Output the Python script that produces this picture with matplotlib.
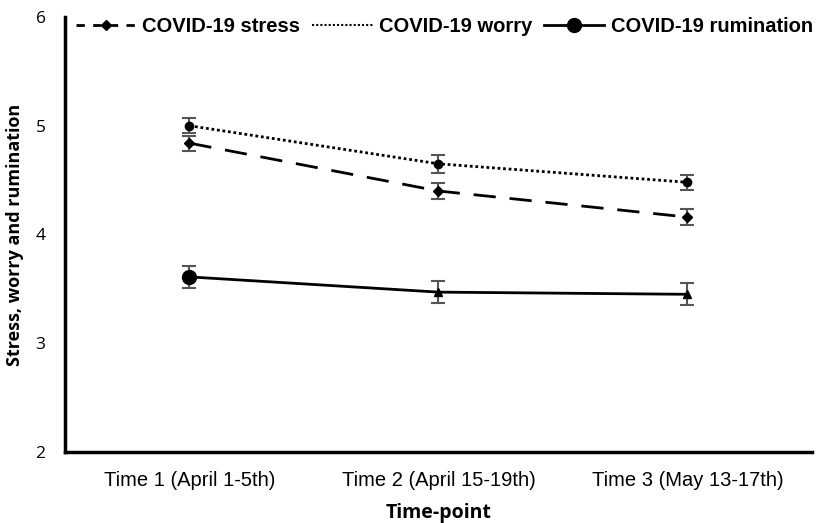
import matplotlib
matplotlib.use('Agg')
import matplotlib.pyplot as plt
from matplotlib.lines import Line2D

timepoints = ['Time 1 (April 1-5th)', 'Time 2 (April 15-19th)', 'Time 3 (May 13-17th)']
stress = [4.84, 4.40, 4.16]
stress_err = [0.07, 0.07, 0.07]
worry = [5.00, 4.65, 4.48]
worry_err = [0.07, 0.08, 0.07]
rumination = [3.61, 3.47, 3.45]
rumination_err = [0.10, 0.10, 0.10]
rum_markers = ['o', '^', '^']
rum_sizes = [10, 6, 6]

fig = plt.figure(figsize=(8.26, 5.23), dpi=100)
ax = fig.add_axes([0.0787, 0.1358, 0.9043, 0.8317])
x = list(range(len(timepoints)))
ecol = '#555555'

ax.errorbar(x, stress, yerr=stress_err, fmt='none', ecolor=ecol, elinewidth=1.5, capsize=5, capthick=1.5, zorder=2)
ax.errorbar(x, worry, yerr=worry_err, fmt='none', ecolor=ecol, elinewidth=1.5, capsize=5, capthick=1.5, zorder=2)
ax.errorbar(x, rumination, yerr=rumination_err, fmt='none', ecolor=ecol, elinewidth=1.5, capsize=5, capthick=1.5, zorder=2)

ax.plot(x, stress, color='black', lw=2, dashes=(8, 5), marker='D', ms=5, zorder=3)
ax.plot(x, worry, color='black', lw=2, linestyle=(0, (1, 1)), marker='o', ms=6, zorder=3)
ax.plot(x, rumination, color='black', lw=2, zorder=3)
for xi, yi, m, s in zip(x, rumination, rum_markers, rum_sizes):
    ax.plot(xi, yi, marker=m, ms=s, color='black', zorder=4)

ax.set_xlim(-0.5, 2.5)
ax.set_ylim(2, 6)
ax.set_yticks([2, 3, 4, 5, 6])
ax.set_xticks(x)
ax.set_xticklabels(timepoints, fontsize=14.5, family='Liberation Sans')
for lbl in ax.get_yticklabels():
    lbl.set_family('Open Sans')
    lbl.set_fontsize(12.5)
ax.tick_params(axis='x', length=0, pad=14)
ax.tick_params(axis='y', length=0, pad=14)
for side in ['top', 'right']:
    ax.spines[side].set_visible(False)
for side in ['left', 'bottom']:
    ax.spines[side].set_linewidth(2.5)

ax.set_xlabel('Time-point', fontsize=14, fontweight='bold', family='Open Sans', labelpad=9)
ax.set_ylabel('Stress, worry and rumination', fontsize=13, fontweight='bold', family='Open Sans', labelpad=8)

handles = [
    Line2D([], [], color='black', lw=2, dashes=(3, 3), marker='D', ms=5, markevery=[0]),
    Line2D([], [], color='black', lw=1.5, linestyle=(0, (1, 1))),
    Line2D([], [], color='black', lw=2, marker='o', ms=10),
]
ax.legend(handles, ['COVID-19 stress', 'COVID-19 worry', 'COVID-19 rumination'],
          loc='upper left', bbox_to_anchor=(-0.002, 1.027), ncol=3, frameon=False,
          prop={'family': 'Liberation Sans', 'weight': 'bold', 'size': 14.5},
          handlelength=3.0, columnspacing=0.6, handletextpad=0.3, borderaxespad=0.2)

fig.savefig('out.png', dpi=100)
